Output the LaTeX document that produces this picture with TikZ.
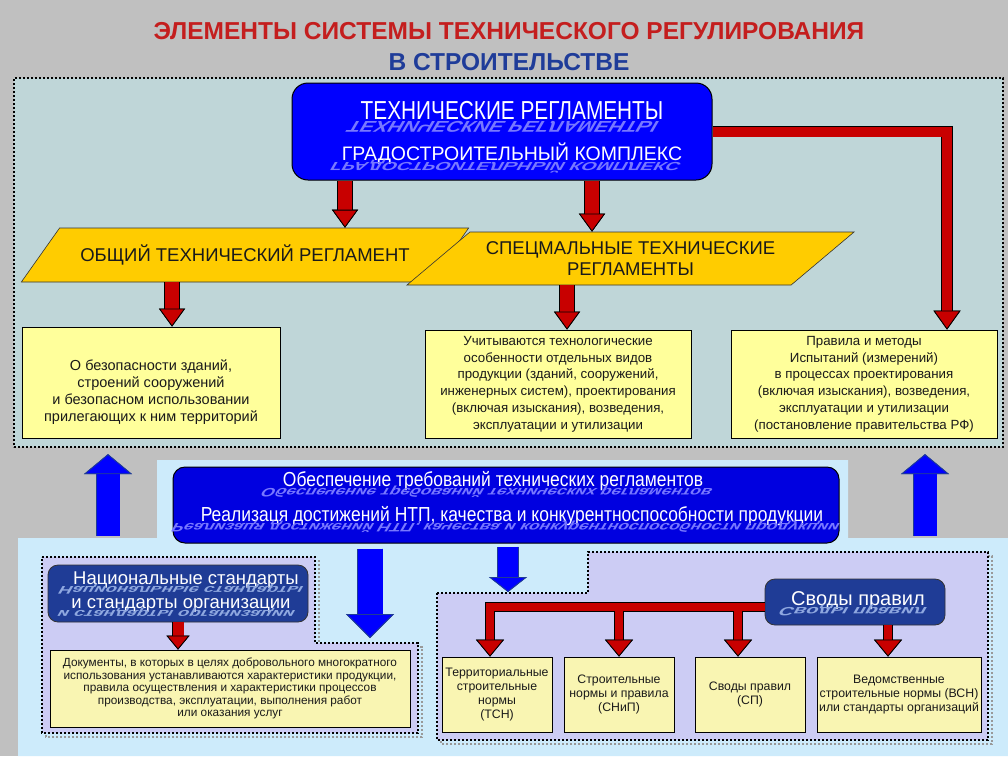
\documentclass[tikz,border=0pt]{standalone}
\usepackage{graphicx}
\usepackage{fontspec}
\setmainfont{Liberation Sans}
\newfontfamily\condfont[FakeStretch=0.8]{Liberation Sans}
\newfontfamily\narrowfont[FakeStretch=0.86]{Liberation Sans}
\newfontfamily\reflfont[FakeSlant=-0.35]{Liberation Sans}
\newfontfamily\reflcond[FakeStretch=0.8, FakeSlant=-0.35]{Liberation Sans}
\newfontfamily\reflnarrow[FakeStretch=0.86, FakeSlant=-0.35]{Liberation Sans}
\usetikzlibrary{arrows.meta,shapes.geometric}

\definecolor{bggray}{HTML}{C0C0C0}
\definecolor{upfill}{HTML}{BFD6D8}
\definecolor{lowfill}{HTML}{CDEBFB}
\definecolor{lavend}{HTML}{CCCCF4}
\definecolor{boxyellow}{HTML}{FFFF9B}
\definecolor{paleyellow}{HTML}{F9F5B2}
\definecolor{gold}{HTML}{FFCC00}
\definecolor{arrred}{HTML}{C80000}
\definecolor{bluec}{HTML}{0000FF}
\definecolor{midblue}{HTML}{0000E0}
\definecolor{navy}{HTML}{1F3C96}
\definecolor{titlered}{HTML}{C41E1E}
\definecolor{titleblue}{HTML}{1F3C99}
\definecolor{reflblue}{HTML}{7878FF}
\definecolor{reflnavy}{HTML}{8FA8E0}
\definecolor{txtdark}{HTML}{1A1A1A}

\newcommand{\mirrored}[1]{\scalebox{1}[-0.6]{\bfseries #1}}

\begin{document}
\begin{tikzpicture}[x=1pt, y=-1pt,
  frame/.style={draw=black, line width=2.2pt, dash pattern=on 2.2pt off 1.8pt},
  shade/.style={draw=black!40, line width=2.2pt, dash pattern=on 2.2pt off 1.8pt},
  ybox/.style={draw=black, line width=0.8pt, fill=boxyellow, text=txtdark, align=center, inner sep=0pt},
  para/.style={shape=trapezium, trapezium left angle=31, trapezium right angle=149, trapezium stretches=true,
    draw=black!80, line width=0.6pt, fill=gold, text=txtdark, align=center, inner sep=0pt,
    font=\fontsize{18.5}{21}\selectfont},
  bbox/.style={draw=black, line width=1pt, rounded corners=16pt, inner sep=0pt},
  nbox/.style={draw=black!80, line width=0.8pt, rounded corners=10pt, fill=navy, inner sep=0pt},
  ttl/.style={font=\bfseries\fontsize{24.5}{28}\selectfont, inner sep=0pt, anchor=base},
  wtxt/.style={text=white, inner sep=0pt, anchor=base},
  rtxt/.style={text=reflblue, inner sep=0pt, anchor=base},
  rarrow/.style n args={3}{draw=arrred, line width=#1,
    -{Triangle[width=#2, length=#3, color=black, fill=arrred, line width=0.8pt]},
    preaction={draw=black, line width=#1+1.6pt, -{Triangle[width=#2, length=#3, color=black, fill=arrred, line width=0.8pt]}}},
  barrow/.style n args={3}{draw=bluec, line width=#1,
    -{Triangle[width=#2, length=#3, color=navy, fill=bluec, line width=0.8pt]},
    preaction={draw=navy, line width=#1+1.6pt, -{Triangle[width=#2, length=#3, color=navy, fill=bluec, line width=0.8pt]}}}]

  \fill[bggray] (0,0) rectangle (1008,756);
  \useasboundingbox (0,0) rectangle (1008,756);

  \node[ttl, text=titlered] (title) at (509,39) {ЭЛЕМЕНТЫ СИСТЕМЫ ТЕХНИЧЕСКОГО РЕГУЛИРОВАНИЯ};
  \node[ttl, text=titleblue] (subtitle) at (509,70) {В СТРОИТЕЛЬСТВЕ};

  % upper part
  \node[frame, fill=upfill, minimum width=989pt, minimum height=369pt, inner sep=0pt] (upframe) at (508.5,262.5) {};

  \node[bbox, fill=bluec, minimum width=420pt, minimum height=97pt] (tr) at (502,131.5) {};
  \node[wtxt, font=\condfont\fontsize{26}{28}\selectfont] (trtext) at (512,119) {ТЕХНИЧЕСКИЕ РЕГЛАМЕНТЫ};
  \node[rtxt, font=\reflcond\fontsize{26}{28}\selectfont] (trrefl) at (506,121) {\mirrored{ТЕХНИЧЕСКИЕ РЕГЛАМЕНТЫ}};
  \node[wtxt, font=\fontsize{19.5}{22}\selectfont] (gktext) at (512,160) {ГРАДОСТРОИТЕЛЬНЫЙ КОМПЛЕКС};
  \node[rtxt, font=\reflfont\fontsize{19.5}{22}\selectfont] (gkrefl) at (508,162) {\mirrored{ГРАДОСТРОИТЕЛЬНЫЙ КОМПЛЕКС}};

  \node[para, minimum width=450pt, minimum height=54pt] (otr) at (245,255) {ОБЩИЙ ТЕХНИЧЕСКИЙ РЕГЛАМЕНТ};
  \node[para, minimum width=449pt, minimum height=53pt] (str) at (630.5,258.5) {СПЕЦМАЛЬНЫЕ ТЕХНИЧЕСКИЕ\\РЕГЛАМЕНТЫ};

  \node[ybox, minimum width=258pt, minimum height=111pt, font=\fontsize{14.5}{16.8}\selectfont] (yb1) at (151,382.5)
    {\rule{0pt}{30pt}О безопасности зданий,\\строений сооружений\\и безопасном использовании\\прилегающих к ним территорий};
  \node[ybox, minimum width=266pt, minimum height=108pt, font=\fontsize{13.3}{16.8}\selectfont] (yb2) at (558,384)
    {Учитываются технологические\\особенности отдельных видов\\продукции (зданий, сооружений,\\инженерных систем), проектирования\\(включая изыскания), возведения,\\эксплуатации и утилизации};
  \node[ybox, minimum width=266pt, minimum height=108pt, font=\fontsize{13.3}{16.8}\selectfont] (yb3) at (864,384)
    {Правила и методы\\Испытаний (измерений)\\в процессах проектирования\\(включая изыскания), возведения,\\эксплуатации и утилизации\\(постановление правительства РФ)};

  \draw[rarrow={14pt}{26pt}{18pt}] ([xshift=-157pt]tr.south) -- ([xshift=-157pt]tr.south |- otr.north);
  \draw[rarrow={14pt}{26pt}{18pt}] ([xshift=90pt]tr.south) -- ([xshift=90pt]tr.south |- str.north);
  \draw[rarrow={14pt}{26pt}{18pt}] ([xshift=-73pt]otr.south) -- ([xshift=-73pt]otr.south |- yb1.north);
  \draw[rarrow={14pt}{26pt}{18pt}] ([xshift=-63.5pt]str.south) -- ([xshift=-63.5pt]str.south |- yb2.north);
  \draw[rarrow={10pt}{27pt}{19pt}] (tr.east) -- ([xshift=83pt]yb3.north |- tr.east) -- ([xshift=83pt]yb3.north);

  % lower part
  \fill[lowfill] (157,460) -- (848,460) -- (848,538) -- (1008,538) -- (1008,756) -- (18,756) -- (18,538) -- (157,538) -- cycle;

  \coordinate (upL) at (108,536);
  \coordinate (upR) at (925,536);
  \draw[barrow={23pt}{48pt}{20pt}, shorten >=6pt] (upL) -- (upL |- upframe.south);
  \draw[barrow={23pt}{48pt}{20pt}, shorten >=6pt] (upR) -- (upR |- upframe.south);

  \node[bbox, fill=midblue, rounded corners=12pt, minimum width=666pt, minimum height=76pt] (mb) at (506,505) {};
  \node[wtxt, font=\narrowfont\fontsize{20.3}{22}\selectfont] (mbtext1) at (493,486) {Обеспечение требований технических регламентов};
  \node[rtxt, font=\reflnarrow\fontsize{20.3}{22}\selectfont] (mbrefl1) at (489,488) {\mirrored{Обеспечение требований технических регламентов}};
  \node[wtxt, font=\narrowfont\fontsize{20.3}{22}\selectfont] (mbtext2) at (512,521) {Реализаця достижений НТП, качества и конкурентноспособности продукции};
  \node[rtxt, font=\reflnarrow\fontsize{20.3}{22}\selectfont] (mbrefl2) at (508,523) {\mirrored{Реализаця достижений НТП, качества и конкурентноспособности продукции}};

  \draw[shade] (46,561) -- (319,561) -- (319,647) -- (422,647) -- (422,737) -- (46,737) -- cycle;
  \draw[frame, fill=lavend] (42,557) -- (315,557) -- (315,643) -- (418,643) -- (418,733) -- (42,733) -- cycle;
  \draw[shade] (441,597) -- (592,597) -- (592,556) -- (992,556) -- (992,744) -- (441,744) -- cycle;
  \draw[frame, fill=lavend] (437,593) -- (588,593) -- (588,552) -- (988,552) -- (988,740) -- (437,740) -- cycle;

  \coordinate (llstep) at (370,638);
  \coordinate (lrstep) at (508,592);
  \draw[barrow={25pt}{48pt}{24pt}, shorten <=5pt] ([xshift=-136pt]mb.south) -- (llstep);
  \draw[barrow={20pt}{38pt}{15pt}, shorten <=3pt] ([xshift=2pt]mb.south) -- (lrstep);

  \node[nbox, minimum width=260pt, minimum height=57pt] (ns) at (178,593.5) {};
  \node[wtxt, font=\fontsize{18.5}{21}\selectfont] (nstext1) at (186,584.5) {Национальные стандарты};
  \node[text=reflnavy, inner sep=0pt, anchor=base, font=\reflfont\fontsize{18.5}{21}\selectfont] (nsrefl1) at (183,586) {\mirrored{Национальные стандарты}};
  \node[wtxt, font=\fontsize{18.5}{21}\selectfont] (nstext2) at (181,608.5) {и стандарты организации};
  \node[text=reflnavy, inner sep=0pt, anchor=base, font=\reflfont\fontsize{18.5}{21}\selectfont] (nsrefl2) at (178,610) {\mirrored{и стандарты организации}};

  \node[ybox, fill=paleyellow, minimum width=360pt, minimum height=77pt, font=\fontsize{11.8}{12.4}\selectfont] (yb4) at (230,688.5)
    {Документы, в которых в целях добровольного многократного\\использования устанавливаются характеристики продукции,\\правила осуществления и характеристики процессов\\производства, эксплуатации, выполнения работ\\или оказания услуг};
  \draw[rarrow={11pt}{23pt}{14pt}] (ns.south) -- (ns.south |- yb4.north);

  \node[nbox, minimum width=180pt, minimum height=46pt] (sp) at (855,602) {};
  \node[wtxt, font=\fontsize{20}{22}\selectfont] (sptext) at (858,605) {Своды правил};
  \node[text=reflnavy, inner sep=0pt, anchor=base, font=\reflfont\fontsize{20}{22}\selectfont] (sprefl) at (855,607) {\mirrored{Своды правил}};

  \node[ybox, fill=paleyellow, minimum width=110pt, minimum height=75pt, font=\fontsize{12.3}{14}\selectfont] (b1) at (497,694.5)
    {Территориальные\\строительные\\нормы\\(ТСН)};
  \node[ybox, fill=paleyellow, minimum width=110pt, minimum height=75pt, font=\fontsize{12.3}{14}\selectfont] (b2) at (619,694.5)
    {Строительные\\нормы и правила\\(СНиП)};
  \node[ybox, fill=paleyellow, minimum width=110pt, minimum height=75pt, font=\fontsize{12.3}{14}\selectfont] (b3) at (750,694.5)
    {Своды правил\\(СП)};
  \node[ybox, fill=paleyellow, minimum width=164pt, minimum height=75pt, font=\fontsize{12.3}{14}\selectfont] (b4) at (899,694.5)
    {Ведомственные\\строительные нормы (ВСН)\\или стандарты организаций};

  \draw[rarrow={8pt}{28pt}{17pt}] ([yshift=-5pt]sp.west) -| ([xshift=-7pt]b1.north);
  \draw[rarrow={8pt}{28pt}{17pt}] ([yshift=-9pt]sp.west -| b2.north) -- (b2.north);
  \draw[rarrow={8pt}{28pt}{17pt}] ([yshift=-9pt, xshift=-12pt]sp.west -| b3.north) -- ([xshift=-12pt]b3.north);
  \draw[rarrow={8pt}{28pt}{17pt}] ([xshift=33pt]sp.south) -- ([xshift=33pt]sp.south |- b4.north);
\end{tikzpicture}
\end{document}
